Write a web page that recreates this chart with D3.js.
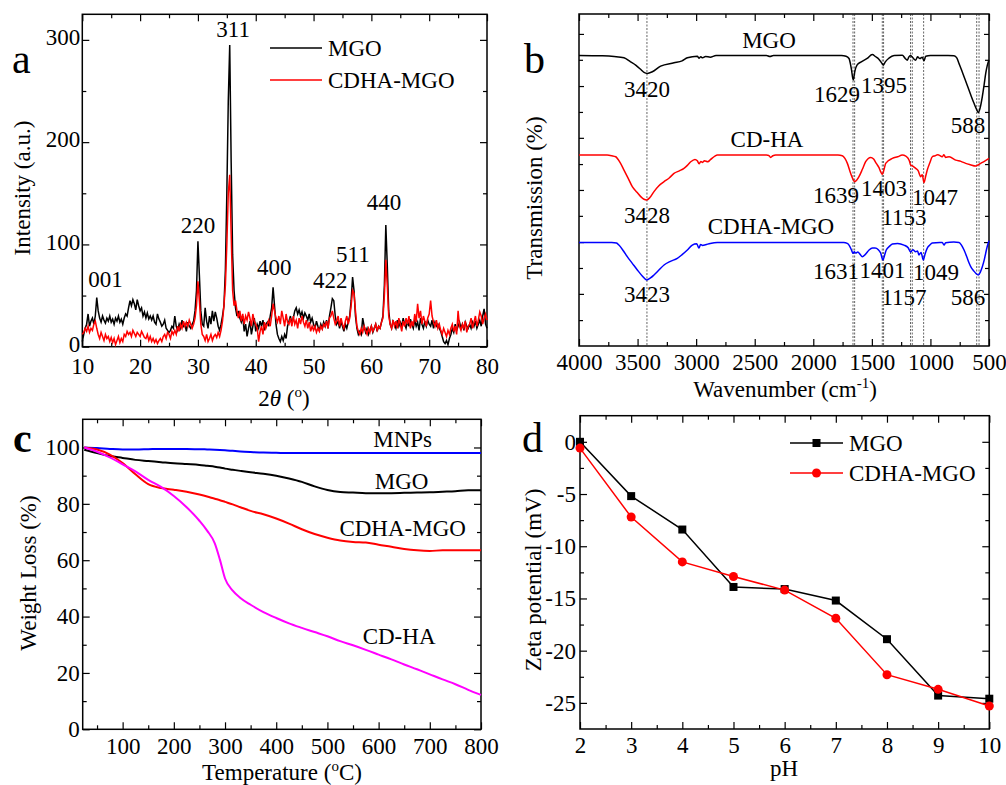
<!DOCTYPE html>
<html>
<head>
<meta charset="utf-8">
<script src="https://cdn.jsdelivr.net/npm/d3@7"></script>
<style>
body { margin: 0; background: #fff; }
</style>
</head>
<body>
<div id="vis"></div>
<script>
// ---- data ----
// (a) XRD, 2theta from 10 to 80 in 0.25 steps
var xrdTheta = d3.range(10, 80.001, 0.25);
var xrdMGO = [
    5, 12, 18, 22,  32, 20, 25, 28,  22, 30, 48, 35,  28, 24, 30, 26,  23, 28, 25, 30,
    24, 27, 22, 28,  25, 30, 24, 27,  22, 28, 32, 30,  38, 45, 40, 46,  42, 36, 46, 40,
    35, 38, 30, 34,  28, 33, 27, 30,  26, 30, 24, 22,  32, 27, 24, 20,  22, 26, 18, 16,
    14, 16, 20, 18,  30, 20, 16, 22,  18, 26, 20, 22,  15, 24, 20, 18,  22, 25, 35, 55,
    103, 70, 35, 22, 20, 38, 25, 18,  30, 22, 35, 25,  34, 28, 20, 16,  22, 30, 40, 75,
    150, 240, 295, 180, 90, 55, 38, 30, 35, 28, 24, 30, 15, 22, 10, 18,  25, 12, 20, 28,
    15, 22, 18, 25,  20, 26, 16, 22,  24, 20, 30, 38,  58, 40, 22, 12,  8, 5, 10, 6,
    12, 8, 20, 25,  30, 22, 28, 35,  38, 32, 36, 30,  34, 28, 33, 30,  26, 32, 24, 28,
    22, 18, 25, 20,  16, 22, 18, 24,  20, 26, 18, 30,  38, 47, 45, 30,  22, 25, 18, 24,
    20, 15, 22, 18,  24, 30, 45, 68,  55, 30, 18, 12,  15, 12, 28, 20,  14, 18, 12, 16,
    20, 14, 18, 22,  15, 20, 18, 24,  30, 60, 119, 80, 35, 22, 18, 25,  22, 18, 26, 20,
    24, 20, 28, 22,  18, 25, 20, 27,  22, 18, 26, 20,  24, 16, 28, 22,  18, 25, 20, 26,
    22, 20, 26, 18,  24, 20, 22, 18,  15, 10, 5, 3,   6, 2, 8, 12,    18, 14, 22, 16,
    20, 24, 18, 22,  16, 24, 20, 18,  22, 18, 24, 20,  25, 18, 22, 26,  20, 30, 37, 22,
    18
];
var xrdCDHAMGO = [
    12, 14, 18, 15,  20, 14, 18, 16,  22, 25, 18, 12,  8, 14, 10, 6,   12, 8, 10, 5,
    9, 4, 8, 2,      6, 10, 4, 8,     5, 12, 10, 15,  12, 14, 10, 16,  13, 10, 14, 12,
    10, 15, 12, 9,   8, 12, 6, 10,    5, 8, 4, 7,     3, 6, 8, 5,     10, 12, 8, 14,
    12, 8, 15, 12,   16, 12, 20, 15,  22, 18, 25, 20,  24, 20, 26, 22,  18, 22, 28, 40,
    64, 45, 22, 12,  10, 6, 12, 5,    8, 12, 6, 10,   12, 9, 14, 10,  16, 25, 40, 60,
    100, 150, 168, 110, 55, 40, 45, 35, 28, 35, 25, 32, 22, 30, 26, 34, 28, 20, 32, 25,
    22, 18, 5, 15,   20, 12, 24, 18,  22, 26, 20, 30,  42, 35, 28, 24,  30, 22, 35, 28,
    20, 32, 24, 22,  28, 20, 30, 22,  26, 18, 28, 22,  30, 24, 20, 26,  18, 24, 15, 20,
    16, 20, 14, 18,  15, 20, 17, 22,  20, 25, 18, 28,  30, 35, 28, 22,  25, 30, 20, 28,
    22, 18, 25, 30,  22, 28, 40, 55,  52, 35, 20, 15,  12, 18, 14, 20,  16, 12, 18, 14,
    20, 15, 18, 22,  16, 20, 18, 24,  28, 50, 85, 60,  30, 22, 18, 26,  20, 25, 18, 28,
    22, 15, 25, 20,  28, 22, 30, 18,  25, 20, 32, 24,  42, 28, 35, 22,  30, 25, 20, 28,
    32, 45, 30, 24,  20, 26, 18, 22,  16, 12, 18, 14,  10, 16, 12, 18,  22, 15, 20, 12,
    35, 20, 16, 22,  18, 25, 14, 20,  22, 28, 18, 24,  30, 20, 26, 34,  30, 22, 28, 32,
    26
];
var xrdPeaks = [
    {t: "001", x: 14.0, y: 58}, {t: "220", x: 30.0, y: 111}, {t: "311", x: 36.1, y: 303},
    {t: "400", x: 43.2, y: 70}, {t: "422", x: 52.9, y: 57}, {t: "511", x: 56.8, y: 83},
    {t: "440", x: 62.2, y: 134}
];

// (b) FTIR, [wavenumber, transmission] (curves offset)
var ftirMGO = [[4000,87.5],[3800,87.4],[3700,87.2],[3616,86.8],[3560,85.6],[3516,84.6],[3470,83.2],[3445,82.4],[3417,82.1],[3374,82.6],[3303,84.3],[3189,85.3],[3120,85.9],[3075,86.8],[2990,87.3],[2976,86.7],[2960,87.1],[2945,86.8],[2920,87.2],[2880,87.0],[2830,87.5],[2400,87.5],[2370,87.2],[2340,87.5],[1760,87.5],[1720,87.3],[1695,86.6],[1675,83.5],[1659,80.1],[1645,82.8],[1627,84.6],[1590,85.6],[1540,86.6],[1496,87.8],[1470,87.2],[1440,86.4],[1415,85.2],[1402,84.6],[1385,85.6],[1354,86.7],[1310,87.5],[1240,87.6],[1215,86.6],[1197,86.1],[1185,87.0],[1169,87.5],[1150,86.8],[1126,86.1],[1110,87.1],[1090,86.6],[1070,87.0],[1055,85.9],[1040,87.3],[1000,87.5],[850,87.5],[799,87.4],[775,86.8],[756,85.1],[735,83.2],[713,81.1],[690,78.9],[671,77.1],[650,75.1],[628,73.1],[605,71.2],[591,70.3],[575,71.8],[557,75.1],[542,78.6],[528,82.1],[514,84.6],[500,86.1]];
var ftirCDHA = [[4000,57.5],[3760,57.5],[3720,57.3],[3687,57.0],[3650,55.3],[3616,53.0],[3580,50.5],[3545,48.0],[3505,46.3],[3473,45.0],[3445,44.2],[3422,44.0],[3395,44.7],[3360,46.5],[3320,48.2],[3274,49.5],[3230,50.6],[3189,52.0],[3140,52.8],[3104,53.5],[3075,54.4],[3046,55.5],[3010,56.2],[2990,55.8],[2975,54.9],[2960,55.6],[2945,55.3],[2930,55.8],[2900,55.5],[2876,56.2],[2840,57.2],[2819,57.5],[2400,57.5],[2380,57.4],[2364,56.8],[2345,57.3],[2320,57.5],[1790,57.5],[1752,57.3],[1730,56.5],[1709,55.0],[1681,52.0],[1660,50.2],[1647,49.5],[1630,49.9],[1610,51.0],[1580,53.3],[1553,55.5],[1510,56.8],[1485,56.3],[1462,55.0],[1440,53.8],[1425,52.5],[1411,51.7],[1395,53.3],[1382,55.0],[1325,56.5],[1280,57.0],[1240,57.5],[1210,57.2],[1197,56.8],[1180,55.8],[1169,54.5],[1150,54.2],[1126,53.5],[1105,52.8],[1083,51.0],[1070,51.6],[1055,49.2],[1040,51.2],[1027,53.0],[1005,55.2],[984,57.0],[960,57.3],[940,57.6],[927,57.5],[900,57.0],[885,57.6],[870,56.8],[840,57.0],[784,56.0],[740,55.6],[699,55.0],[660,54.6],[614,54.2],[590,54.6],[571,55.0],[540,55.6],[500,56.5]];
var ftirCDHAMGO = [[4000,31.2],[3720,31.2],[3680,31.0],[3659,30.4],[3620,28.6],[3588,26.9],[3545,24.9],[3502,22.9],[3460,21.1],[3422,19.9],[3390,20.5],[3360,21.4],[3320,22.8],[3274,24.4],[3220,25.5],[3161,26.4],[3120,27.5],[3075,28.9],[3033,30.4],[2995,30.8],[2976,29.5],[2962,30.6],[2945,30.3],[2920,30.5],[2880,30.9],[2819,31.2],[1740,31.2],[1710,30.9],[1695,30.4],[1675,29.0],[1661,27.9],[1650,28.4],[1638,28.0],[1620,28.3],[1600,27.6],[1582,26.9],[1555,27.6],[1524,28.9],[1495,29.5],[1473,29.5],[1445,29.0],[1425,28.0],[1405,25.9],[1390,27.5],[1377,28.9],[1350,30.0],[1325,30.7],[1280,30.9],[1226,30.4],[1190,29.6],[1169,28.3],[1150,29.0],[1126,28.4],[1110,28.6],[1098,27.4],[1080,28.2],[1061,25.9],[1045,27.8],[1027,29.5],[1005,30.4],[984,31.0],[920,31.2],[899,31.2],[884,30.4],[870,31.1],[800,31.3],[756,31.2],[735,30.4],[713,28.9],[690,26.9],[670,25.0],[656,23.9],[630,22.6],[610,21.8],[591,21.4],[575,22.2],[557,23.9],[540,26.0],[528,28.0],[514,30.1],[500,31.7]];
var ftirRefLines = [3420, 1661, 1647, 1411, 1400, 1170, 1155, 1058, 605, 585];
var ftirLabels = [
    {t: "MGO", x: 2378, y: 89.8}, {t: "3420", x: 3420, y: 75}, {t: "1629", x: 1797, y: 73.5},
    {t: "1395", x: 1396, y: 76.3}, {t: "588", x: 679, y: 64.2},
    {t: "CD-HA", x: 2395, y: 59.9}, {t: "3428", x: 3420, y: 37}, {t: "1639", x: 1806, y: 43.2},
    {t: "1403", x: 1396, y: 45.3}, {t: "1153", x: 1226, y: 36.5}, {t: "1047", x: 961, y: 42.5},
    {t: "CDHA-MGO", x: 2361, y: 33.7}, {t: "3423", x: 3420, y: 13.3}, {t: "1631", x: 1806, y: 20.2},
    {t: "1401", x: 1410, y: 20.5}, {t: "1157", x: 1226, y: 12.3}, {t: "1049", x: 952, y: 19.8},
    {t: "586", x: 679, y: 12.3}
];

// (c) TGA
var tgaTemp = [25, 50, 75, 100, 125, 150, 175, 200, 225, 250, 265, 280, 290, 300, 315, 330, 350, 375, 400,
    425, 450, 475, 500, 525, 550, 575, 600, 625, 650, 675, 700, 725, 750, 775, 800];
var tgaMNPs = [100, 99.8, 99.5, 99.3, 99.3, 99.4, 99.5, 99.5, 99.5, 99.4, 99.3, 99.2, 99.1, 99.0, 98.8, 98.6, 98.4, 98.2, 98.1,
    98.0, 98.0, 98.0, 98.0, 98.0, 98.0, 98.0, 98.0, 98.0, 98.0, 98.0, 98.0, 98.0, 98.0, 98.0, 98.0];
var tgaMGO = [99.2, 98, 97, 96.3, 95.6, 95.2, 94.8, 94.4, 94.1, 93.8, 93.5, 93.2, 92.9, 92.5, 92.1, 91.7, 91.2, 90.7, 90.0,
    89.0, 87.8, 86.2, 84.9, 84.2, 84.0, 83.8, 83.8, 83.8, 83.9, 84.0, 84.1, 84.3, 84.5, 84.8, 84.8];
var tgaCDHAMGO = [100, 99.3, 97.5, 94.5, 90.5, 87, 85.6, 85, 84.3, 83.3, 82.6, 81.8, 81.3, 80.7, 79.8, 78.8, 77.5, 76.3, 74.8,
    73, 71, 69.3, 68, 67, 66.5, 66.3, 65.5, 64.8, 64, 63.5, 63.3, 63.5, 63.5, 63.5, 63.5];
var tgaCDHA = [100, 98.5, 96.5, 94, 91.5, 88.5, 86, 82.8, 78.8, 74, 70.5, 66, 60.2, 53.5, 49.2, 46.6, 44.2, 41.6, 39.5,
    37.6, 36, 34.5, 33, 31.3, 29.8, 28.2, 26.5, 24.8, 23, 21.3, 19.5, 17.7, 16, 14, 12.2];
var tgaLabels = [
    {t: "MNPs", x: 647, y: 100}, {t: "MGO", x: 645, y: 85.4},
    {t: "CDHA-MGO", x: 647, y: 68.7}, {t: "CD-HA", x: 640, y: 30.3}
];

// (d) zeta potential
var zetaPH = [2, 3, 4, 5, 6, 7, 8, 9, 10];
var zetaMGO = [0, -5.2, -8.4, -13.9, -14.1, -15.2, -18.9, -24.3, -24.6];
var zetaCDHAMGO = [-0.6, -7.2, -11.5, -12.9, -14.2, -16.9, -22.3, -23.7, -25.3];

// ---- drawing ----
var FONT = '"Liberation Serif", "Times New Roman", Times, serif';
var FS = 23;

var svg = d3.select('#vis').append('svg')
    .attr('width', 1006)
    .attr('height', 785)
    .attr('font-family', FONT);

function tickStyle(sel) {
    sel.select('.domain').remove();
    sel.selectAll('line').attr('stroke', '#000').attr('stroke-width', 1.2);
    sel.selectAll('text').attr('font-family', FONT).attr('font-size', FS).attr('fill', '#000');
}

// frame plus inward ticks on all four sides
function drawAxes(x, y, o) {
    var xr = x.range(), yr = y.range();
    var left = Math.min(xr[0], xr[1]), right = Math.max(xr[0], xr[1]);
    var top = Math.min(yr[0], yr[1]), bottom = Math.max(yr[0], yr[1]);
    var g = svg.append('g');

    g.append('g').attr('transform', 'translate(0,' + bottom + ')')
        .call(d3.axisBottom(x).tickValues(o.xMajor).tickSize(-7).tickSizeOuter(0).tickPadding(o.xPad || 8).tickFormat(o.xFmt))
        .call(tickStyle);
    g.append('g').attr('transform', 'translate(0,' + bottom + ')')
        .call(d3.axisBottom(x).tickValues(o.xMinor).tickSize(-4).tickFormat(''))
        .call(tickStyle);
    g.append('g').attr('transform', 'translate(0,' + top + ')')
        .call(d3.axisTop(x).tickValues(o.xMajor).tickSize(-7).tickFormat(''))
        .call(tickStyle);
    g.append('g').attr('transform', 'translate(0,' + top + ')')
        .call(d3.axisTop(x).tickValues(o.xMinor).tickSize(-4).tickFormat(''))
        .call(tickStyle);

    var yl = g.append('g').attr('transform', 'translate(' + left + ',0)')
        .call(d3.axisLeft(y).tickValues(o.yMajor).tickSize(-o.yLen).tickSizeOuter(0).tickPadding(o.yPad).tickFormat(o.yFmt))
        .call(tickStyle);
    if (o.yDy) yl.selectAll('text').attr('dy', o.yDy);
    g.append('g').attr('transform', 'translate(' + left + ',0)')
        .call(d3.axisLeft(y).tickValues(o.yMinor).tickSize(-4).tickFormat(''))
        .call(tickStyle);
    g.append('g').attr('transform', 'translate(' + right + ',0)')
        .call(d3.axisRight(y).tickValues(o.yMajor).tickSize(-o.yLen).tickFormat(''))
        .call(tickStyle);
    g.append('g').attr('transform', 'translate(' + right + ',0)')
        .call(d3.axisRight(y).tickValues(o.yMinor).tickSize(-4).tickFormat(''))
        .call(tickStyle);

    g.append('rect')
        .attr('x', left).attr('y', top)
        .attr('width', right - left).attr('height', bottom - top)
        .attr('fill', 'none').attr('stroke', '#000').attr('stroke-width', 1.5);
}

function label(x, y, t, opts) {
    opts = opts || {};
    return svg.append('text')
        .attr('x', x).attr('y', y)
        .attr('font-size', opts.size || FS)
        .attr('font-weight', opts.weight || 'normal')
        .attr('text-anchor', opts.anchor || 'start')
        .attr('fill', '#000')
        .text(t);
}

function yTitle(x, y, t) {
    return svg.append('text')
        .attr('transform', 'translate(' + x + ',' + y + ') rotate(-90)')
        .attr('text-anchor', 'middle')
        .attr('font-size', FS)
        .text(t);
}

// ---------- (a) XRD ----------
var xa = d3.scaleLinear().domain([10, 80]).range([82.3, 487]);
var ya = d3.scaleLinear().domain([0, 325]).range([346.7, 14.3]);

drawAxes(xa, ya, {
    xMajor: d3.range(10, 81, 10), xMinor: d3.range(15, 80, 10), xFmt: d3.format('d'), xPad: 11,
    yMajor: [0, 100, 200, 300], yMinor: [50, 150, 250], yFmt: d3.format('d'), yLen: 7, yPad: 2, yDy: '0.2em'
});

var lineA = d3.line().x(function(d) { return xa(d[0]); }).y(function(d) { return ya(d[1]); });
svg.append('path')
    .datum(xrdTheta.map(function(t, i) { return [t, xrdMGO[i]]; }))
    .attr('d', lineA).attr('fill', 'none').attr('stroke', '#000').attr('stroke-width', 1.5);
svg.append('path')
    .datum(xrdTheta.map(function(t, i) { return [t, xrdCDHAMGO[i]]; }))
    .attr('d', lineA).attr('fill', 'none').attr('stroke', '#ff0000').attr('stroke-width', 1.5);

xrdPeaks.forEach(function(p) {
    label(xa(p.x), ya(p.y), p.t, {anchor: 'middle'});
});

// legend
svg.append('line').attr('x1', 270).attr('x2', 322).attr('y1', 48).attr('y2', 48)
    .attr('stroke', '#000').attr('stroke-width', 1.5);
label(328, 56, 'MGO');
svg.append('line').attr('x1', 270).attr('x2', 322).attr('y1', 80).attr('y2', 80)
    .attr('stroke', '#ff0000').attr('stroke-width', 1.5);
label(328, 88, 'CDHA-MGO');

yTitle(30, 188, 'Intensity (a.u.)');
var ta = svg.append('text').attr('x', 284).attr('y', 406).attr('text-anchor', 'middle').attr('font-size', FS);
ta.append('tspan').text('2');
ta.append('tspan').attr('font-style', 'italic').text('\u03b8');
ta.append('tspan').text(' (');
ta.append('tspan').attr('font-size', 15).attr('dy', -9).text('o');
ta.append('tspan').attr('dy', 9).text(')');
label(12, 73, 'a', {size: 42});

// ---------- (b) FTIR ----------
var xb = d3.scaleLinear().domain([4000, 500]).range([579, 989]);
var yb = d3.scaleLinear().domain([0, 100]).range([346, 14]);

drawAxes(xb, yb, {
    xMajor: d3.range(4000, 499, -500), xMinor: d3.range(3750, 500, -500), xFmt: d3.format('d'),
    yMajor: [15.7, 31.3, 47, 62.7, 78.3, 94], yMinor: [7.8, 23.5, 39.2, 54.8, 70.5, 86.2],
    yFmt: function() { return ''; }, yLen: 5, yPad: 2
});

ftirRefLines.forEach(function(w) {
    svg.append('line')
        .attr('x1', xb(w)).attr('x2', xb(w)).attr('y1', 14).attr('y2', 346)
        .attr('stroke', '#222').attr('stroke-width', 0.7).attr('stroke-dasharray', '2,1.5');
});

var lineB = d3.line().x(function(d) { return xb(d[0]); }).y(function(d) { return yb(d[1]); })
    .curve(d3.curveMonotoneX);
[[ftirMGO, '#000'], [ftirCDHA, '#ff0000'], [ftirCDHAMGO, '#0000ff']].forEach(function(s) {
    svg.append('path').datum(s[0]).attr('d', lineB)
        .attr('fill', 'none').attr('stroke', s[1]).attr('stroke-width', 1.5);
});

ftirLabels.forEach(function(p) {
    label(xb(p.x), yb(p.y), p.t, {anchor: 'middle'});
});

yTitle(542, 198, 'Transmission (%)');
var tb = svg.append('text').attr('x', 785).attr('y', 397).attr('text-anchor', 'middle').attr('font-size', FS);
tb.append('tspan').text('Wavenumber (cm');
tb.append('tspan').attr('font-size', 15).attr('dy', -9).text('-1');
tb.append('tspan').attr('dy', 9).text(')');
label(524, 73, 'b', {size: 42});

// ---------- (c) TGA ----------
var xc = d3.scaleLinear().domain([22, 800]).range([82.7, 481]);
var yc = d3.scaleLinear().domain([0, 110]).range([729.3, 419.3]);

drawAxes(xc, yc, {
    xMajor: d3.range(100, 801, 100), xMinor: d3.range(50, 800, 100), xFmt: d3.format('d'),
    yMajor: d3.range(0, 101, 20), yMinor: d3.range(10, 100, 20), yFmt: d3.format('d'), yLen: 7, yPad: 3
});

var lineC = d3.line().x(function(d) { return xc(d[0]); }).y(function(d) { return yc(d[1]); })
    .curve(d3.curveMonotoneX);
[[tgaMNPs, '#0000ff'], [tgaMGO, '#000'], [tgaCDHAMGO, '#ff0000'], [tgaCDHA, '#ff00ff']].forEach(function(s) {
    svg.append('path')
        .datum(tgaTemp.map(function(t, i) { return [t, s[0][i]]; }))
        .attr('d', lineC).attr('fill', 'none').attr('stroke', s[1]).attr('stroke-width', 2);
});

tgaLabels.forEach(function(p) {
    label(xc(p.x), yc(p.y), p.t, {anchor: 'middle'});
});

yTitle(36, 573, 'Weight Loss (%)');
var tc = svg.append('text').attr('x', 282).attr('y', 780).attr('text-anchor', 'middle').attr('font-size', FS);
tc.append('tspan').text('Temperature (');
tc.append('tspan').attr('font-size', 15).attr('dy', -9).text('o');
tc.append('tspan').attr('dy', 9).text('C)');
label(13, 452, 'c', {size: 42, weight: 'bold'});

// ---------- (d) zeta potential ----------
var xd = d3.scaleLinear().domain([2, 10]).range([580, 989.3]);
var yd = d3.scaleLinear().domain([-27.5, 2.5]).range([729, 415.7]);

drawAxes(xd, yd, {
    xMajor: d3.range(2, 11, 1), xMinor: d3.range(2.5, 10, 1), xFmt: d3.format('d'),
    yMajor: [0, -5, -10, -15, -20, -25], yMinor: [-2.5, -7.5, -12.5, -17.5, -22.5],
    yFmt: function(d) { return String(d); }, yLen: 7, yPad: 4
});

var lineD = d3.line().x(function(d) { return xd(d[0]); }).y(function(d) { return yd(d[1]); });
var mgoPts = zetaPH.map(function(p, i) { return [p, zetaMGO[i]]; });
var cdhaPts = zetaPH.map(function(p, i) { return [p, zetaCDHAMGO[i]]; });

svg.append('path').datum(mgoPts).attr('d', lineD)
    .attr('fill', 'none').attr('stroke', '#000').attr('stroke-width', 1.5);
svg.selectAll('.sq').data(mgoPts).enter().append('rect')
    .attr('x', function(d) { return xd(d[0]) - 4; })
    .attr('y', function(d) { return yd(d[1]) - 4; })
    .attr('width', 8).attr('height', 8).attr('fill', '#000');

svg.append('path').datum(cdhaPts).attr('d', lineD)
    .attr('fill', 'none').attr('stroke', '#ff0000').attr('stroke-width', 1.5);
svg.selectAll('.dot').data(cdhaPts).enter().append('circle')
    .attr('cx', function(d) { return xd(d[0]); })
    .attr('cy', function(d) { return yd(d[1]); })
    .attr('r', 4.5).attr('fill', '#ff0000');

// legend
svg.append('line').attr('x1', 790).attr('x2', 843).attr('y1', 443).attr('y2', 443)
    .attr('stroke', '#000').attr('stroke-width', 1.5);
svg.append('rect').attr('x', 812.5).attr('y', 439).attr('width', 8).attr('height', 8).attr('fill', '#000');
label(849, 451, 'MGO');
svg.append('line').attr('x1', 790).attr('x2', 843).attr('y1', 473).attr('y2', 473)
    .attr('stroke', '#ff0000').attr('stroke-width', 1.5);
svg.append('circle').attr('cx', 816.5).attr('cy', 473).attr('r', 4.5).attr('fill', '#ff0000');
label(849, 481, 'CDHA-MGO');

yTitle(541, 580, 'Zeta potential (mV)');
label(784, 776, 'pH', {anchor: 'middle'});
label(522, 452, 'd', {size: 42});
</script>
</body>
</html>
